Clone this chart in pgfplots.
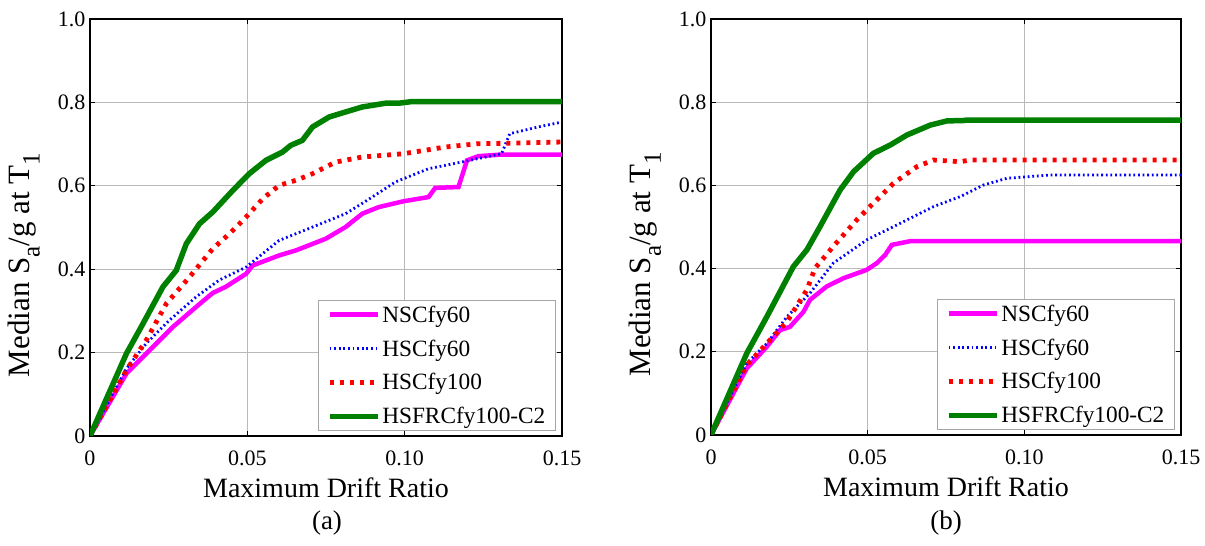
\documentclass[border=0pt]{standalone}
\usepackage{fontspec}
\setmainfont{Liberation Serif}
\usepackage{pgfplots}
\pgfplotsset{compat=1.18}

\definecolor{mag}{RGB}{255,0,255}
\definecolor{dgreen}{RGB}{0,128,0}
\newcommand\sub[1]{\raisebox{-0.32em}{\fontsize{25}{25}\selectfont #1}}

\pgfplotsset{
  drift/.style={
    scale only axis,
    width=472pt, height=417pt,
    anchor=south west,
    xmin=0, xmax=0.15, ymin=0, ymax=1,
    xtick={0,0.05,0.10,0.15},
    xticklabels={0,0.05,0.10,0.15},
    ytick={0,0.2,0.4,0.6,0.8,1.0},
    yticklabels={0,0.2,0.4,0.6,0.8,1.0},
    grid=major,
    major grid style={gray!55, line width=0.8pt},
    axis line style={black, line width=1.3pt},
    tick style={black, line width=0.8pt},
    tick align=inside,
    major tick length=5pt,
    ticklabel style={font=\fontsize{22}{24}\selectfont},
    xticklabel style={yshift=-11pt},
    yticklabel style={xshift=-1pt},
    xlabel={Maximum Drift Ratio},
    ylabel={Median S\sub{a}/g at T\sub{1}},
    xlabel style={font=\fontsize{28}{30}\selectfont,
      at={(axis description cs:0.5,-0.125)}, anchor=center},
    ylabel style={font=\fontsize{31}{33}\selectfont,
      at={(axis description cs:-0.14,0.41)}, anchor=center},
    legend cell align=left,
    legend style={at={(1,0)}, anchor=south east, xshift=-6pt, yshift=5pt,
      draw=gray!70, line width=1.2pt, font=\fontsize{23.3}{26}\selectfont,
      inner xsep=8pt, inner ysep=3pt, row sep=12pt},
    legend image code/.code={\draw[##1] (0pt,0pt) -- (48pt,0pt);},
  },
  nsc/.style={mag, line width=4.5pt},
  hsc/.style={blue, line width=2.8pt, dash pattern=on 1.8pt off 2.8pt},
  hsc100/.style={red, line width=4.8pt, dash pattern=on 4pt off 6pt},
  hsfrc/.style={dgreen, line width=5.5pt},
}

\begin{document}
\begin{tikzpicture}
\useasboundingbox (0pt,0pt) rectangle (1205pt,546pt);

% (a)
\begin{axis}[drift, at={(90pt,110pt)}]
\addplot[nsc] coordinates {
(0,0) (0.0116,0.150) (0.019,0.206) (0.0264,0.262) (0.0338,0.310) (0.039,0.343)
(0.0432,0.358) (0.0496,0.389) (0.0517,0.409) (0.0601,0.433) (0.0654,0.445)
(0.0749,0.473) (0.0812,0.501) (0.0865,0.533) (0.0918,0.549) (0.0997,0.563)
(0.1076,0.573) (0.1097,0.595) (0.1171,0.597) (0.1198,0.661) (0.1234,0.671)
(0.1308,0.675) (0.15,0.675)};
\addlegendentry{NSCfy60}
\addplot[hsc] coordinates {
(0,0) (0.0116,0.162) (0.0179,0.222) (0.0253,0.278) (0.0338,0.334) (0.0411,0.374)
(0.0496,0.405) (0.0601,0.469) (0.0707,0.501) (0.0812,0.533) (0.0897,0.573)
(0.097,0.609) (0.1076,0.641) (0.1181,0.657) (0.1308,0.677) (0.1334,0.725)
(0.1424,0.741) (0.15,0.753)};
\addlegendentry{HSCfy60}
\addplot[hsc100] coordinates {
(0,0) (0.0116,0.158) (0.0179,0.230) (0.0243,0.318) (0.0316,0.381) (0.039,0.449)
(0.0443,0.485) (0.0496,0.525) (0.0549,0.569) (0.0601,0.601) (0.0654,0.613)
(0.0707,0.629) (0.0781,0.657) (0.0865,0.669) (0.0997,0.677) (0.1129,0.693)
(0.1234,0.701) (0.133,0.702) (0.15,0.705)};
\addlegendentry{HSCfy100}
\addplot[hsfrc] coordinates {
(0,0) (0.0116,0.198) (0.0163,0.262) (0.0232,0.358) (0.0274,0.397) (0.0306,0.461)
(0.0348,0.509) (0.039,0.537) (0.0454,0.589) (0.0506,0.629) (0.0559,0.661)
(0.0612,0.681) (0.0638,0.697) (0.0675,0.709) (0.0707,0.741) (0.076,0.765)
(0.0812,0.777) (0.0865,0.789) (0.0939,0.798) (0.0981,0.798) (0.1023,0.802)
(0.15,0.802)};
\addlegendentry{HSFRCfy100-C2}
\end{axis}
\node[font=\fontsize{27}{30}\selectfont] at (327pt,23pt) {(a)};

% (b)
\begin{axis}[drift, at={(711pt,111pt)}, width=470pt, height=416pt]
\addplot[nsc] coordinates {
(0,0) (0.0114,0.160) (0.0178,0.212) (0.022,0.252) (0.0252,0.260) (0.0295,0.296)
(0.0316,0.325) (0.0369,0.357) (0.0423,0.377) (0.0497,0.397) (0.0529,0.413)
(0.0556,0.433) (0.0577,0.457) (0.0636,0.466) (0.15,0.466)};
\addlegendentry{NSCfy60}
\addplot[hsc] coordinates {
(0,0) (0.0114,0.172) (0.0178,0.220) (0.0242,0.284) (0.0316,0.341) (0.039,0.413)
(0.0497,0.469) (0.0604,0.509) (0.071,0.549) (0.0795,0.573) (0.087,0.601)
(0.0944,0.617) (0.1083,0.625) (0.15,0.625)};
\addlegendentry{HSCfy60}
\addplot[hsc100] coordinates {
(0,0) (0.0114,0.168) (0.0178,0.220) (0.0242,0.272) (0.0306,0.349) (0.0332,0.401)
(0.039,0.453) (0.0465,0.517) (0.0518,0.557) (0.0582,0.605) (0.0657,0.645)
(0.071,0.661) (0.0795,0.657) (0.0827,0.661) (0.15,0.661)};
\addlegendentry{HSCfy100}
\addplot[hsfrc] coordinates {
(0,0) (0.0114,0.196) (0.0178,0.284) (0.0263,0.405) (0.0306,0.445) (0.0348,0.501)
(0.0412,0.589) (0.0455,0.633) (0.0518,0.677) (0.0572,0.697) (0.0625,0.721)
(0.07,0.745) (0.0753,0.755) (0.0806,0.756) (0.0817,0.757) (0.15,0.757)};
\addlegendentry{HSFRCfy100-C2}
\end{axis}
\node[font=\fontsize{27}{30}\selectfont] at (946pt,23pt) {(b)};
\end{tikzpicture}
\end{document}
